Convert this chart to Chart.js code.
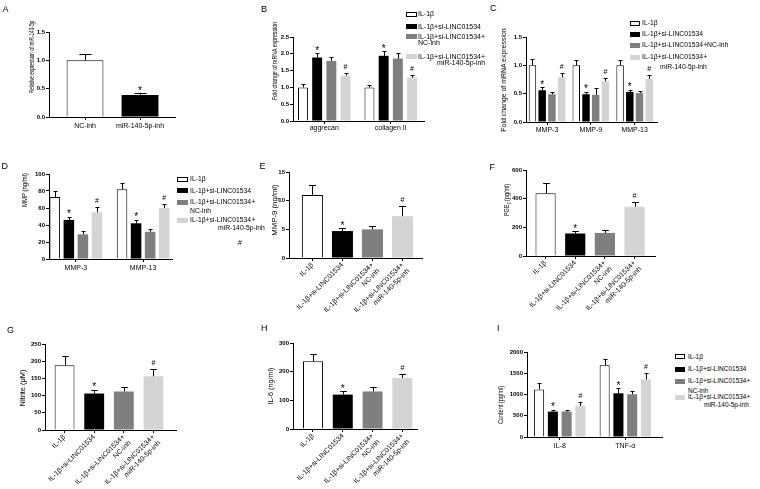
<!DOCTYPE html>
<html><head><meta charset="utf-8">
<script src="https://cdn.jsdelivr.net/npm/chart.js@4.4.0/dist/chart.umd.min.js"></script>
<style>
body{margin:0;background:#fff;width:760px;height:489px;overflow:hidden;position:relative;font-family:Arial,"Liberation Sans",sans-serif;}
canvas{position:absolute;}
.t{position:absolute;white-space:nowrap;color:#000;line-height:10px;}
.lb{position:absolute;border:1px solid #000;box-sizing:border-box;}
.yt{position:absolute;white-space:nowrap;font-size:7px;line-height:8px;transform-origin:center center;color:#000;}
.yt sub{font-size:5px;line-height:0;}
</style></head><body>
<script>
// ---------------- DATA ----------------
const seriesNames = ['IL-1β','IL-1β+si-LINC01534','IL-1β+si-LINC01534+NC-inh','IL-1β+si-LINC01534+miR-140-5p-inh'];
const sigGroup = ['', '*', '', '#'];

// A
const catsA = ['NC-inh','miR-140-5p-inh'];
const valsA = [1.0, 0.39];
const errA  = [1.12, 0.42];
const sigA  = ['', '*'];
const yTicksA = ['0.0','0.5','1.0','1.5'];

// B
const catsB = ['aggrecan','collagen II'];
const B_il1b = [1.0, 1.0],   B_il1b_err = [1.11, 1.07];
const B_si   = [1.89, 1.94], B_si_err   = [2.02, 2.08];
const B_nc   = [1.79, 1.86], B_nc_err   = [1.91, 2.01];
const B_mir  = [1.35, 1.29], B_mir_err  = [1.44, 1.37];
const yTicksB = ['0.0','0.5','1.0','1.5','2.0','2.5'];

// C
const catsC = ['MMP-3','MMP-9','MMP-13'];
const C_il1b = [1.0, 1.0, 1.0],    C_il1b_err = [1.12, 1.09, 1.09];
const C_si   = [0.56, 0.49, 0.53], C_si_err   = [0.61, 0.53, 0.57];
const C_nc   = [0.49, 0.48, 0.51], C_nc_err   = [0.53, 0.60, 0.55];
const C_mir  = [0.79, 0.72, 0.76], C_mir_err  = [0.87, 0.77, 0.83];
const yTicksC = ['0.0','0.5','1.0','1.5'];

// D
const catsD = ['MMP-3','MMP-13'];
const D_il1b = [73, 82], D_il1b_err = [80, 90];
const D_si   = [46, 42], D_si_err   = [50, 46];
const D_nc   = [29, 32], D_nc_err   = [32.5, 35];
const D_mir  = [55, 60], D_mir_err  = [61, 65];
const yTicksD = ['0','20','40','60','80','100'];

// E-H categories
const catsTreat = ['IL-1β','IL-1β+si-LINC01534',['IL-1β+si-LINC01534+','NC-inh'],['IL-1β+si-LINC01534+','miR-140-5p-inh']];

const valsE = [11.0, 4.7, 5.0, 7.3], errE = [12.8, 5.2, 5.5, 9.1];
const yTicksE = ['0','5','10','15'];
const valsF = [437, 157, 161, 343], errF = [507, 173, 180, 378];
const yTicksF = ['0','200','400','600'];
const valsG = [188, 106, 112, 156], errG = [214, 117, 124, 178];
const yTicksG = ['0','50','100','150','200','250'];
const valsH = [236, 120, 131, 178], errH = [260, 132, 145, 193];
const yTicksH = ['0','100','200','300'];
const sigTreat = ['', '*', '', '#'];

// I
const catsI = ['IL-8','TNF-α'];
const I_il1b = [1120, 1690], I_il1b_err = [1260, 1846];
const I_si   = [598, 1028],  I_si_err   = [645, 1145];
const I_nc   = [600, 1005],  I_nc_err   = [645, 1090];
const I_mir  = [731, 1355],  I_mir_err  = [832, 1509];
const yTicksI = ['0','500','1000','1500','2000'];

// ---------------- STYLE ----------------
const FF = 'Arial, "Liberation Sans", sans-serif';
const colors = ['#ffffff','#000000','#7f7f7f','#d4d4d4'];

const errPlugin = {
  id: 'errbars',
  afterDatasetsDraw(chart) {
    const ctx = chart.ctx, ys = chart.scales.y;
    chart.data.datasets.forEach((ds, di) => {
      const meta = chart.getDatasetMeta(di);
      meta.data.forEach((bar, i) => {
        const top = ys.getPixelForValue(ds.err[i]);
        const cap = Math.max(4, bar.width * 0.33);
        const x = Math.round(bar.x) + 0.5;
        ctx.save();
        ctx.strokeStyle = '#000'; ctx.lineWidth = 1;
        ctx.beginPath();
        ctx.moveTo(x, bar.y); ctx.lineTo(x, Math.round(top) + 0.5);
        ctx.moveTo(x - cap / 2, Math.round(top) + 0.5); ctx.lineTo(x + cap / 2, Math.round(top) + 0.5);
        ctx.stroke();
        const s = ds.sig[i];
        if (s) {
          ctx.fillStyle = '#000'; ctx.textAlign = 'center'; ctx.textBaseline = 'alphabetic';
          if (s === '*') { ctx.font = '10px ' + FF; ctx.fillText('*', bar.x, top + 0.5); }
          else { ctx.font = '7px ' + FF; ctx.fillText('#', bar.x, top - 4); }
        }
        ctx.restore();
      });
    });
  }
};

function panel(cfg) {
  const yw = 30;
  const left = cfg.x0 - yw, top = cfg.yTop - 8;
  const width = cfg.x1 + 4 - left, height = cfg.yBot + cfg.xh - top;
  const cv = document.createElement('canvas');
  cv.style.left = left + 'px'; cv.style.top = top + 'px';
  cv.style.width = width + 'px'; cv.style.height = height + 'px';
  cv.width = width; cv.height = height;
  document.body.appendChild(cv);
  const tickVals = cfg.yTicks.map(parseFloat);
  const datasets = cfg.series.map(s => ({
    data: s.vals.map((v, i) => ({ x: i, y: v })),
    backgroundColor: s.color,
    borderColor: '#000',
    borderWidth: s.bw,
    categoryPercentage: cfg.catPct,
    barPercentage: cfg.barPct,
    err: s.err, sig: s.sig
  }));
  const gridOpt = { display: true, drawOnChartArea: false, drawTicks: true, tickLength: 3, color: '#000', lineWidth: 1, offset: false };
  new Chart(cv, {
    type: 'bar',
    data: { datasets },
    options: {
      responsive: false, animation: false, maintainAspectRatio: false,
      layout: { padding: { top: 8, right: 4, left: 0, bottom: 0 } },
      plugins: { legend: { display: false }, tooltip: { enabled: false } },
      scales: {
        x: {
          type: 'linear', min: cfg.xMin, max: cfg.xMax, offset: false,
          afterBuildTicks: s => { s.ticks = cfg.cats.map((c, i) => ({ value: i })); },
          afterFit: s => { s.height = cfg.xh; },
          grid: gridOpt,
          border: { display: true, color: '#000', width: 1 },
          ticks: {
            autoSkip: false, minRotation: cfg.rot, maxRotation: cfg.rot, padding: cfg.xPad,
            color: '#000', font: { size: 7, family: FF },
            callback: (v, i) => cfg.cats[i]
          }
        },
        y: {
          min: 0, max: tickVals[tickVals.length - 1],
          afterBuildTicks: s => { s.ticks = tickVals.map(v => ({ value: v })); },
          afterFit: s => { s.width = yw; },
          grid: gridOpt,
          border: { display: true, color: '#000', width: 1 },
          ticks: { padding: 1, color: '#000', font: { size: 6, weight: 'bold', family: FF },
            callback: (v, i) => cfg.yTicks[i] }
        }
      }
    },
    plugins: [errPlugin]
  });
}

function grouped(vals, errs) {
  return vals.map((v, k) => ({ vals: v, err: errs[k], color: colors[k], bw: k === 0 ? 1 : 0,
    sig: v.map(() => sigGroup[k]) }));
}
function single(vals, err, sig, cols) {
  return [{ vals, err, sig, color: cols, bw: cols.map(c => c === '#ffffff' ? 1 : 0) }];
}

// ---------------- TEXT HELPERS ----------------
function text(str, x, yc, size, extra) {
  const d = document.createElement('div');
  d.className = 't'; d.textContent = str;
  d.style.fontSize = size + 'px'; d.style.left = x + 'px'; d.style.top = (yc - 5) + 'px';
  if (extra) Object.assign(d.style, extra);
  document.body.appendChild(d);
  return d;
}
function box(x, yc, color, w, h) {
  const d = document.createElement('div');
  d.className = 'lb';
  d.style.left = x + 'px'; d.style.top = (yc - h / 2) + 'px';
  d.style.width = w + 'px'; d.style.height = h + 'px';
  d.style.background = color;
  if (color !== '#ffffff') d.style.borderColor = color;
  document.body.appendChild(d);
}
function ytitle(html, cx, cy, len) {
  const d = document.createElement('div');
  d.className = 'yt'; d.innerHTML = html;
  document.body.appendChild(d);
  const w = d.offsetWidth, h = d.offsetHeight;
  d.style.left = (cx - w / 2) + 'px'; d.style.top = (cy - h / 2) + 'px';
  d.style.transform = 'rotate(-90deg) scaleX(' + (len / w) + ')';
}

// ---------------- PANELS ----------------
panel({ x0: 49, x1: 175, yTop: 32, yBot: 117, xMin: -0.655, xMax: 1.636, catPct: 1, barPct: 0.67, xh: 18, rot: 0, xPad: 2,
  cats: catsA, yTicks: yTicksA, series: single(valsA, errA, sigA, [colors[0], colors[1]]) });

panel({ x0: 293, x1: 424, yTop: 37, yBot: 121, xMin: -0.47, xMax: 1.5, catPct: 0.854, barPct: 0.7, xh: 16, rot: 0, xPad: 0,
  cats: catsB, yTicks: yTicksB, series: grouped([B_il1b, B_si, B_nc, B_mir], [B_il1b_err, B_si_err, B_nc_err, B_mir_err]) });

panel({ x0: 526, x1: 657, yTop: 37, yBot: 122, xMin: -0.48, xMax: 2.51, catPct: 0.887, barPct: 0.77, xh: 16, rot: 0, xPad: 1,
  cats: catsC, yTicks: yTicksC, series: grouped([C_il1b, C_si, C_nc, C_mir], [C_il1b_err, C_si_err, C_nc_err, C_mir_err]) });

panel({ x0: 49, x1: 172, yTop: 174, yBot: 259, xMin: -0.40, xMax: 1.43, catPct: 0.836, barPct: 0.75, xh: 18, rot: 0, xPad: 2,
  cats: catsD, yTicks: yTicksD, series: grouped([D_il1b, D_si, D_nc, D_mir], [D_il1b_err, D_si_err, D_nc_err, D_mir_err]) });

panel({ x0: 289, x1: 422, yTop: 172, yBot: 258, xMin: -0.78, xMax: 3.65, catPct: 1, barPct: 0.7, xh: 60, rot: 45, xPad: 0,
  cats: catsTreat, yTicks: yTicksE, series: single(valsE, errE, sigTreat, colors) });

panel({ x0: 526, x1: 655, yTop: 170, yBot: 256, xMin: -0.66, xMax: 3.69, catPct: 1, barPct: 0.68, xh: 60, rot: 45, xPad: 0,
  cats: catsTreat, yTicks: yTicksF, series: single(valsF, errF, sigTreat, colors) });

panel({ x0: 45, x1: 176, yTop: 344, yBot: 430, xMin: -0.66, xMax: 3.76, catPct: 1, barPct: 0.67, xh: 58, rot: 45, xPad: 0,
  cats: catsTreat, yTicks: yTicksG, series: single(valsG, errG, sigTreat, colors) });

panel({ x0: 293, x1: 417, yTop: 343, yBot: 429, xMin: -0.67, xMax: 3.49, catPct: 1, barPct: 0.67, xh: 58, rot: 45, xPad: 0,
  cats: catsTreat, yTicks: yTicksH, series: single(valsH, errH, sigTreat, colors) });

panel({ x0: 527, x1: 662, yTop: 352, yBot: 437, xMin: -0.5, xMax: 1.56, catPct: 0.84, barPct: 0.73, xh: 18, rot: 0, xPad: 2,
  cats: catsI, yTicks: yTicksI, series: grouped([I_il1b, I_si, I_nc, I_mir], [I_il1b_err, I_si_err, I_nc_err, I_mir_err]) });

// ---------------- Y TITLES ----------------
ytitle('Relative expression of miR-140-5p', 31, 57, 72);
ytitle('Fold change of mRNA expression', 275, 61, 78);
ytitle('Fold change of mRNA expression', 504, 80, 103);
ytitle('MMP (ng/ml)', 25, 190, 34);
ytitle('MMP-9 (ng/ml)', 275, 210, 51);
ytitle('PGE<sub>2</sub> (pg/ml)', 506, 200, 32);
ytitle('Nitrite (μM)', 23, 388, 37);
ytitle('IL-6 (ng/ml)', 271, 386, 37);
ytitle('Content (pg/ml)', 501, 405, 38);

// ---------------- PANEL LETTERS ----------------
[['A', 2.5, 9], ['B', 261, 9], ['C', 490, 8], ['D', 1.5, 165.5], ['E', 259.5, 166], ['F', 489.5, 166.5],
 ['G', 7, 329.5], ['H', 261, 327.5], ['I', 497, 328]].forEach(p => text(p[0], p[1], p[2], 9));

// ---------------- LEGENDS ----------------
// B
box(406, 14.3, colors[0], 11, 5); text('IL-1β', 418, 14.3, 7);
box(406, 26.7, colors[1], 11, 5); text('IL-1β+si-LINC01534', 418, 26.7, 7);
box(406, 36.7, colors[2], 11, 5); text('IL-1β+si-LINC01534+', 418, 36.7, 7); text('NC-inh', 418, 43.3, 7);
box(406, 56.7, colors[3], 11, 5); text('IL-1β+si-LINC01534+', 418, 56.7, 7); text('miR-140-5p-inh', 437, 63.3, 7);
// C
box(630, 23.3, colors[0], 10, 5); text('IL-1β', 642, 23.3, 6.8);
box(630, 34.3, colors[1], 10, 5); text('IL-1β+si-LINC01534', 642, 34.3, 6.8);
box(630, 45.3, colors[2], 10, 5); text('IL-1β+si-LINC01534+NC-inh', 642, 45.3, 6.8);
box(630, 57.3, colors[3], 10, 5); text('IL-1β+si-LINC01534+', 642, 57.3, 6.8); text('miR-140-5p-inh', 660, 66.7, 6.8);
// D
box(177, 179.3, colors[0], 11, 5); text('IL-1β', 190, 179.3, 6.8);
box(177, 190.7, colors[1], 11, 5); text('IL-1β+si-LINC01534', 190, 190.7, 6.8);
box(177, 202.3, colors[2], 11, 5); text('IL-1β+si-LINC01534+', 190, 202.3, 6.8); text('NC-inh', 190, 211.3, 6.8);
box(177, 220, colors[3], 11, 5); text('IL-1β+si-LINC01534+', 190, 220, 6.8); text('miR-140-5p-inh', 218, 228.3, 6.8);
text('#', 238, 243, 7);
// I
box(675, 356.7, colors[0], 10, 5); text('IL-1β', 688, 356.7, 6.5);
box(675, 369.3, colors[1], 10, 5); text('IL-1β+si-LINC01534', 688, 369.3, 6.5);
box(675, 381, colors[2], 10, 5); text('IL-1β+si-LINC01534+', 688, 381, 6.5); text('NC-inh', 688, 390.7, 6.5);
box(675, 397.3, colors[3], 10, 5); text('IL-1β+si-LINC01534+', 688, 397.3, 6.5); text('miR-140-5p-inh', 704, 405, 6.5);
</script>
</body></html>
